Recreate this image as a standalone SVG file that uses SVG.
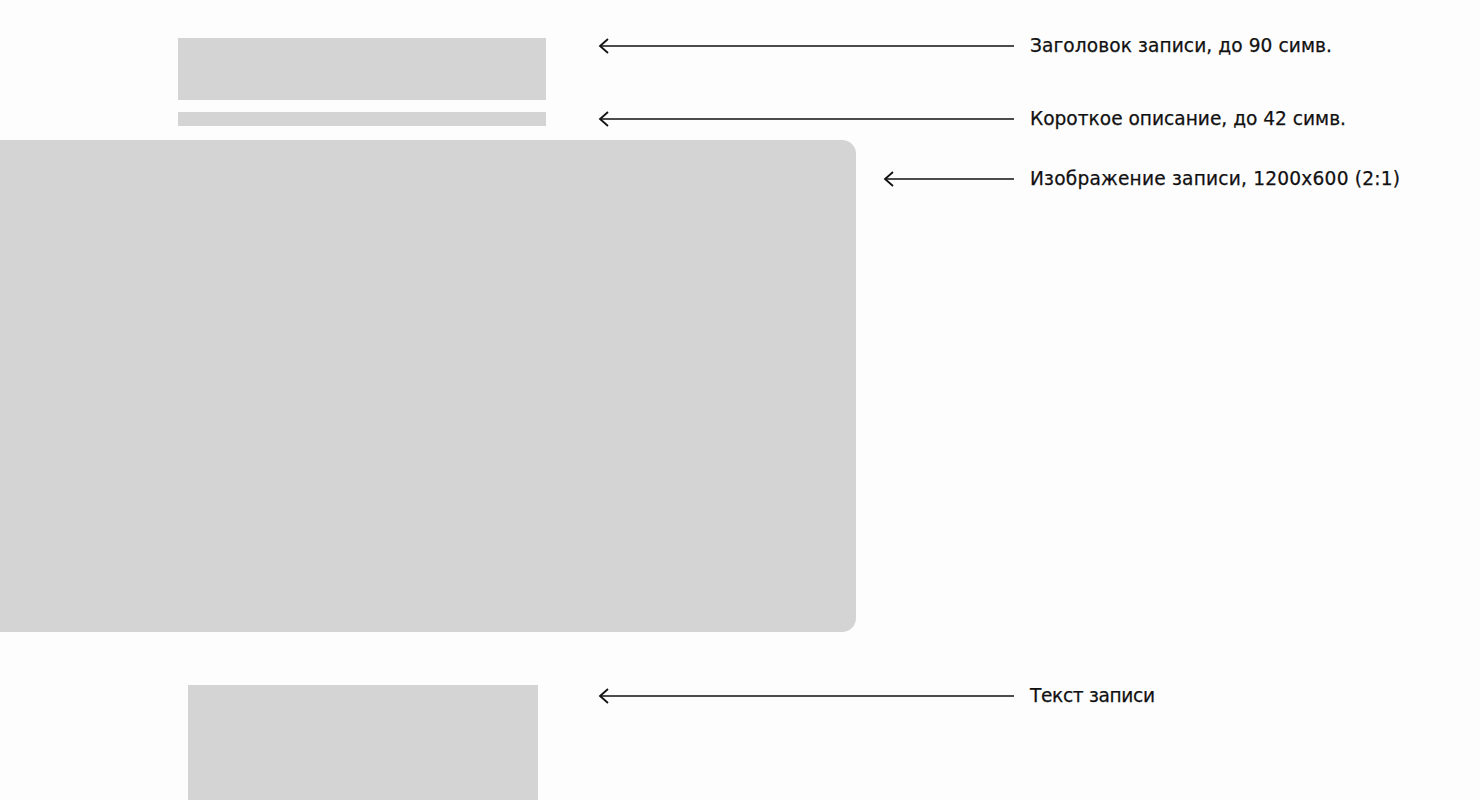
<svg xmlns="http://www.w3.org/2000/svg" width="1480" height="800" viewBox="0 0 1480 800">
<defs>
<style>
.blk{fill:#d4d4d4}
.con{stroke:#111;stroke-width:1.6;fill:none}
.lbl{font-family:"DejaVu Sans","Liberation Sans",Arial,sans-serif;font-size:18.6px;fill:#111;stroke:#111;stroke-width:0.25}
</style>
<marker id="arr" viewBox="0 0 12 16" refX="10" refY="8" markerWidth="12" markerHeight="16" markerUnits="userSpaceOnUse" orient="auto">
<path d="M2,1 L10,8 L2,15" fill="none" stroke="#111" stroke-width="1.8"/>
</marker>
</defs>
<rect width="1480" height="800" fill="#fdfdfd"/>
<g id="title-block"><rect class="blk" x="178" y="38" width="368" height="62"/></g>
<g id="desc-block"><rect class="blk" x="178" y="112" width="368" height="14"/></g>
<g id="image-block"><rect class="blk" x="-20" y="140" width="876" height="492" rx="14"/></g>
<g id="text-block"><rect class="blk" x="188" y="685" width="350" height="130"/></g>
<g id="connectors">
<line class="con" x1="1014" y1="46" x2="600" y2="46" marker-end="url(#arr)"/>
<line class="con" x1="1014" y1="119" x2="600" y2="119" marker-end="url(#arr)"/>
<line class="con" x1="1014" y1="179" x2="885" y2="179" marker-end="url(#arr)"/>
<line class="con" x1="1014" y1="696" x2="600" y2="696" marker-end="url(#arr)"/>
</g>
<g id="labels">
<text class="lbl" x="1030" y="52" textLength="302" lengthAdjust="spacing">Заголовок записи, до 90 симв.</text>
<text class="lbl" x="1030" y="125" textLength="316" lengthAdjust="spacing">Короткое описание, до 42 симв.</text>
<text class="lbl" x="1030" y="185" textLength="370" lengthAdjust="spacing">Изображение записи, 1200x600 (2:1)</text>
<text class="lbl" x="1030" y="702" textLength="125" lengthAdjust="spacing">Текст записи</text>
</g>
</svg>
